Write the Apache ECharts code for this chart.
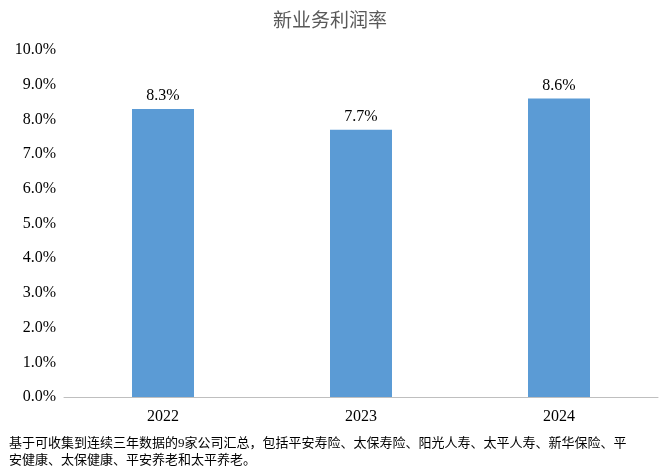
<!DOCTYPE html>
<html><head><meta charset="utf-8">
<script src="https://cdn.jsdelivr.net/npm/echarts@6/dist/echarts.min.js"></script>
<style>body{margin:0}#c{width:660px;height:476px}</style></head>
<body><div id="c"></div>
<script>
const categories = ['2022','2023','2024'];
const values = [8.3, 7.7, 8.6];
const title = '新业务利润率';
const note = '基于可收集到连续三年数据的9家公司汇总，包括平安寿险、太保寿险、阳光人寿、太平人寿、新华保险、平\n安健康、太保健康、平安养老和太平养老。';
const font = '"Liberation Serif","Noto Sans CJK SC",serif';
const chart = echarts.init(document.getElementById('c'));
chart.setOption({
  animation:false,
  title:[{text:title,left:'center',top:8,textStyle:{fontFamily:font,fontSize:19,fontWeight:'normal',color:'#595959'}},
         {text:note,left:4,top:430,textStyle:{fontFamily:font,fontSize:13,fontWeight:'normal',color:'#000',lineHeight:17}}],
  grid:{left:64,right:2,top:50,bottom:79},
  xAxis:{type:'category',data:categories,axisTick:{show:false},axisLine:{lineStyle:{color:'#bfbfbf'}},
    axisLabel:{fontFamily:font,fontSize:16,color:'#000',margin:12}},
  yAxis:{type:'value',min:0,max:10,interval:1,splitLine:{show:false},
    axisLabel:{formatter:v=>v.toFixed(1)+'%',fontFamily:font,fontSize:16,color:'#000'}},
  series:[{type:'bar',data:values,barWidth:62,itemStyle:{color:'#5b9bd5'},
    label:{show:true,position:'top',formatter:p=>p.value.toFixed(1)+'%',fontFamily:font,fontSize:16,color:'#000'}}]
});
</script></body></html>
